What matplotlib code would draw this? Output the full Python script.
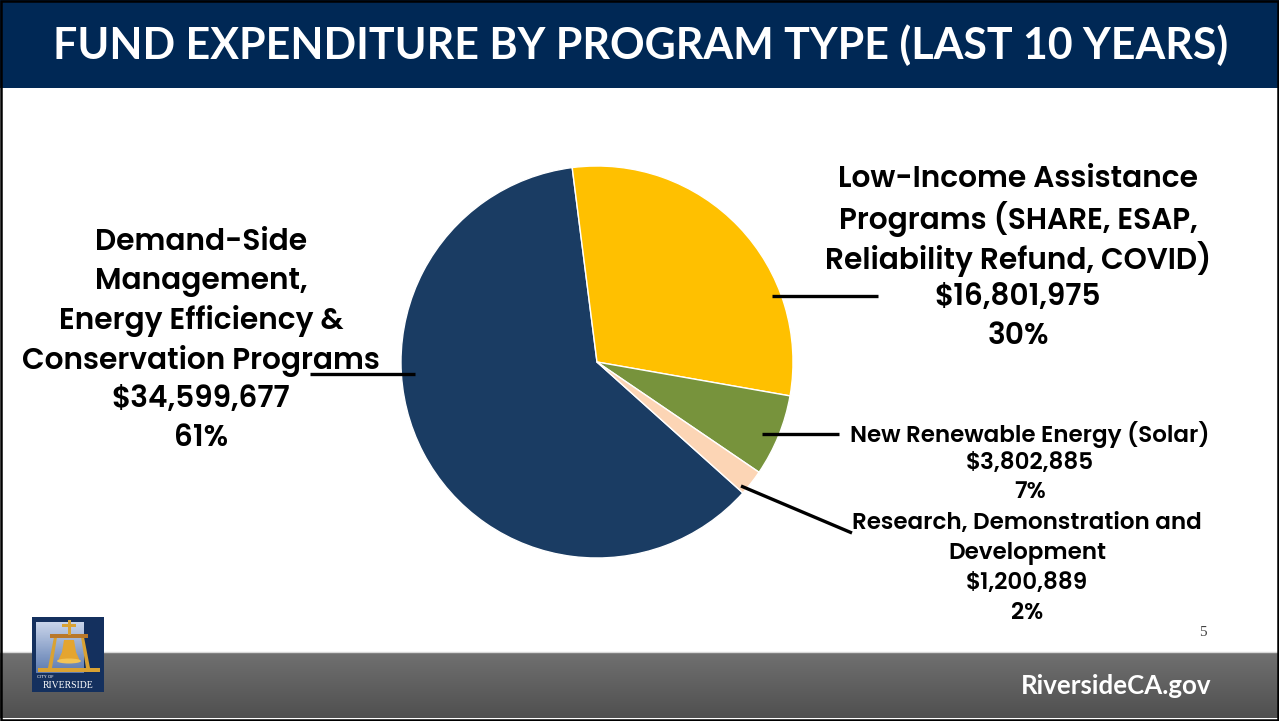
import matplotlib
matplotlib.use("Agg")
import matplotlib.pyplot as plt
import numpy as np
from matplotlib.patches import Rectangle, Polygon, Ellipse

# ---------------- data ----------------
categories = [
    "Demand-Side\nManagement,\nEnergy Efficiency &\nConservation Programs",
    "Low-Income Assistance\nPrograms (SHARE, ESAP,\nReliability Refund, COVID)",
    "New Renewable Energy (Solar)",
    "Research, Demonstration and\nDevelopment",
]
amounts = [34599677, 16801975, 3802885, 1200889]
colors = ["#1a3c63", "#ffc000", "#77933c", "#fcd5b5"]
title = "FUND EXPENDITURE BY PROGRAM TYPE (LAST 10 YEARS)"
footer_text = "RiversideCA.gov"
page_number = "5"

W, H = 1279, 721
fig = plt.figure(figsize=(W / 100, H / 100), dpi=100)
renderer = fig.canvas.get_renderer()

LABEL_FONT = ["Poppins", "DejaVu Sans"]
TITLE_FONT = ["Lato", "DejaVu Sans"]


def fit_size(text, family, weight, target_px, base=20.0):
    t = fig.text(0, 0, text, fontsize=base, family=family, fontweight=weight)
    w = t.get_window_extent(renderer).width
    t.remove()
    return base * target_px / w


# background axes in pixel coordinates
bg = fig.add_axes([0, 0, 1, 1], zorder=0)
bg.set_xlim(0, W)
bg.set_ylim(H, 0)
bg.axis("off")
bg.add_patch(Rectangle((0, 0), W, H, facecolor="white", edgecolor="none"))
# title bar
bg.add_patch(Rectangle((0, 0), W, 88, facecolor="#002855", edgecolor="none"))
tsize = fit_size(title, TITLE_FONT, "bold", 1173)
bg.text(641, 45, title, color="white", fontsize=tsize, fontweight="bold",
        family=TITLE_FONT, ha="center", va="center")
# footer gradient
grad = np.linspace(0, 1, 64).reshape(-1, 1)
bg.imshow(grad, extent=(0, W, 718, 652), cmap=matplotlib.colors.LinearSegmentedColormap.from_list(
    "g", ["#707070", "#505050"]), aspect="auto", zorder=1)
bg.plot([0, W], [652, 652], color="#d8d8d8", lw=1, zorder=2)
fsize = fit_size(footer_text, TITLE_FONT, "bold", 191)
bg.text(1211, 686, footer_text, color="white", fontsize=fsize, fontweight="bold",
        family=TITLE_FONT, ha="right", va="center", zorder=3)
bg.text(1203, 632, page_number, color="#404040", fontsize=11,
        family=["Liberation Serif", "DejaVu Serif"], ha="center", va="center")

# logo
bg.add_patch(Rectangle((32, 617), 72, 75, facecolor="#14305e", edgecolor="none", zorder=4))
logo_grad = np.linspace(0, 1, 32).reshape(-1, 1)
bg.imshow(logo_grad, extent=(36, 84, 673, 622), cmap=matplotlib.colors.LinearSegmentedColormap.from_list(
    "lg", ["#c8d4ea", "#5d7bb0"]), aspect="auto", zorder=5)
gold = "#d9a233"
bg.add_patch(Rectangle((38, 668), 62, 4, facecolor=gold, edgecolor="none", zorder=6))
bg.add_patch(Polygon([[48, 668], [54, 637], [57, 637], [52, 668]], facecolor=gold, edgecolor="none", zorder=6))
bg.add_patch(Polygon([[90, 668], [84, 637], [81, 637], [86, 668]], facecolor=gold, edgecolor="none", zorder=6))
bg.add_patch(Rectangle((50, 634), 38, 4, facecolor="#b9782a", edgecolor="none", zorder=6))
bg.add_patch(Rectangle((67.5, 620), 3, 15, facecolor=gold, edgecolor="none", zorder=6))
bg.add_patch(Rectangle((62, 624), 14, 2.5, facecolor=gold, edgecolor="none", zorder=6))
bg.add_patch(Polygon([[64, 640], [74, 640], [76, 652], [80, 661], [58, 661], [62, 652]],
                     facecolor="#e5a52f", edgecolor="none", zorder=6))
bg.add_patch(Ellipse((69, 661), 24, 5, facecolor="#f3c455", edgecolor="none", zorder=6))
bg.text(37, 677.5, "CITY OF", color="white", fontsize=3.2, family="DejaVu Sans",
        ha="left", va="center", zorder=7)
bg.text(68, 685.5, "RIVERSIDE", color="white", fontsize=7,
        family=["Liberation Serif", "DejaVu Serif"], ha="center", va="center", zorder=7)

# border
bg.add_patch(Rectangle((1, 1), W - 2.5, H - 2.5, facecolor="none", edgecolor="black", lw=1.8, zorder=10))

# ---------------- pie ----------------
cx, cy, r = 597, 362, 196
pie_ax = fig.add_axes([(cx - r) / W, (H - cy - r) / H, 2 * r / W, 2 * r / H], zorder=1)
pie_ax.pie(amounts, colors=colors, startangle=-41.9, counterclock=False, radius=1,
           wedgeprops=dict(edgecolor="white", linewidth=1.0))
pie_ax.set_xlim(-1, 1)
pie_ax.set_ylim(-1, 1)
pie_ax.set_aspect("equal")
pie_ax.axis("off")

# ---------------- labels & leader lines ----------------
ov = fig.add_axes([0, 0, 1, 1], zorder=2)
ov.set_xlim(0, W)
ov.set_ylim(H, 0)
ov.axis("off")
ov.patch.set_alpha(0)

total = sum(amounts)
pcts = [f"{round(a / total * 100)}%" for a in amounts]
money = [f"${a:,}" for a in amounts]

WEIGHT = "semibold"


def block(x, y0, lines, step, size):
    for i, ln in enumerate(lines):
        ov.text(x, y0 + i * step, ln, fontsize=size, fontweight=WEIGHT, family=LABEL_FONT,
                ha="center", va="center", color="black")


big = fit_size("Conservation Programs", LABEL_FONT, WEIGHT, 358)
small = fit_size("New Renewable Energy (Solar)", LABEL_FONT, WEIGHT, 359)
block(201, 243, categories[0].split("\n") + [money[0], pcts[0]], 39.2, big)
block(1018, 180, categories[1].split("\n") + [money[1], pcts[1]], 39.3, big)
block(1030, 434, categories[2].split("\n") + [money[2], pcts[2]], 29.5, small)
block(1027, 524, categories[3].split("\n") + [money[3], pcts[3]], 29.7, small)

lw = 2.4
ov.plot([310, 415], [374, 374], color="black", lw=lw, solid_capstyle="butt")
ov.plot([772, 878], [296, 296], color="black", lw=lw, solid_capstyle="butt")
ov.plot([762, 839], [434, 434], color="black", lw=lw, solid_capstyle="butt")
ov.plot([741, 852], [486, 533], color="black", lw=lw, solid_capstyle="butt")

fig.savefig("out.png", dpi=100)
